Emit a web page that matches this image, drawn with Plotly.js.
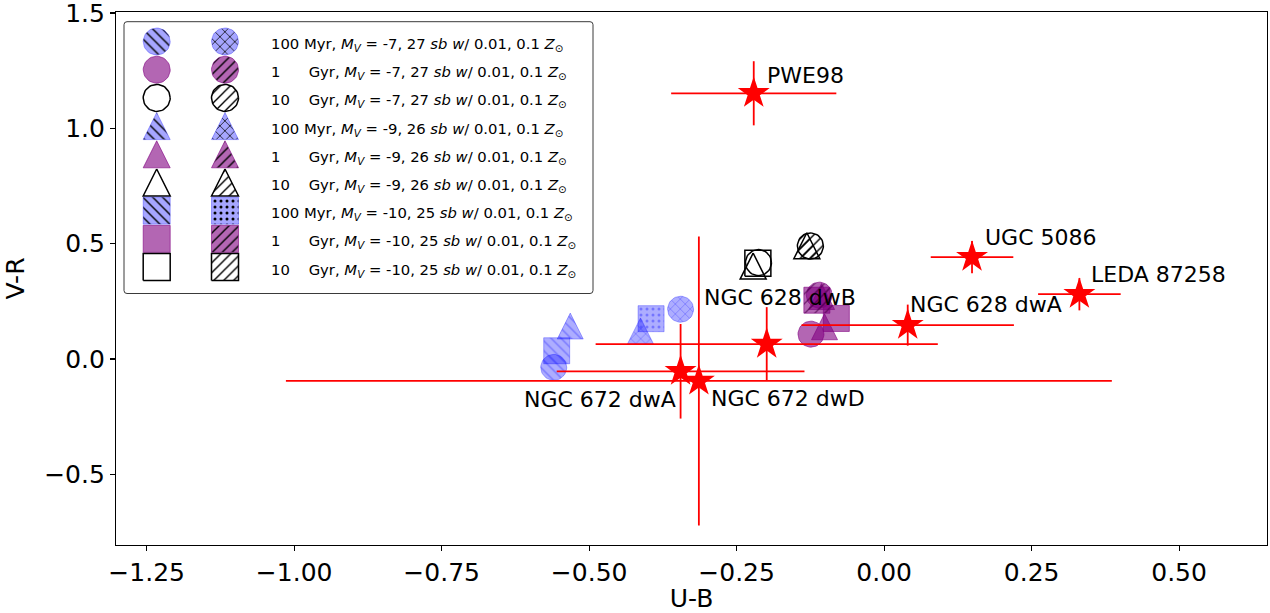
<!DOCTYPE html>
<html>
<head>
<meta charset="utf-8">
<script src="https://cdn.plot.ly/plotly-3.0.1.min.js"></script>
<style>
  html, body { margin: 0; padding: 0; background: #fff; }
  #chart { width: 1270px; height: 613px; }
</style>
</head>
<body>
<div id="chart"></div>
<script>
// ---- model star clusters -------------------------------------------------
// rows: age, columns: M_V = -7 (circle), -9 (triangle), -10 (square)
const ageNumbers = ['100', '1', '10'];
const ageUnits = ['Myr', 'Gyr', 'Gyr'];
const magnitudes = [-7, -9, -10];
const surfaceBrightness = [27, 26, 25];

// U-B and V-R of the models at 0.01 Z_sun
const modelUB_z001 = [
  [-0.560, -0.532, -0.555],
  [-0.124, -0.101, -0.081],
  [-0.213, -0.222, -0.214]
];
const modelVR_z001 = [
  [-0.036, 0.143, 0.036],
  [0.108, 0.140, 0.176],
  [0.418, 0.403, 0.415]
];
// U-B and V-R of the models at 0.1 Z_sun
const modelUB_z01 = [
  [-0.345, -0.413, -0.395],
  [-0.110, -0.106, -0.114],
  [-0.125, -0.131, null]
];
const modelVR_z01 = [
  [0.216, 0.122, 0.175],
  [0.277, 0.271, 0.255],
  [0.490, 0.491, null]
];

// ---- observed dwarfs -----------------------------------------------------
const galaxyNames = ['PWE98', 'UGC 5086', 'LEDA 87258', 'NGC 628 dwA', 'NGC 628 dwB', 'NGC 672 dwA', 'NGC 672 dwD'];
const galaxyUB = [-0.221, 0.149, 0.331, 0.040, -0.199, -0.345, -0.314];
const galaxyVR = [1.152, 0.442, 0.281, 0.147, 0.065, -0.053, -0.095];
const galaxyUBerr = [0.140, 0.070, 0.070, 0.180, 0.290, 0.210, 0.700];
const galaxyVRerr = [0.139, 0.070, 0.070, 0.089, 0.160, 0.205, 0.626];

// axis ticks
const xTicks = [-1.25, -1.00, -0.75, -0.50, -0.25, 0.00, 0.25, 0.50];
const yTicks = [-0.5, 0.0, 0.5, 1.0, 1.5];

// ---- geometry ------------------------------------------------------------
const W = 1270, H = 613;
const margin = { l: 116, r: 3, t: 12, b: 68 };
const plotW = W - margin.l - margin.r;
const plotH = H - margin.t - margin.b;
const xRange = [-1.302, 0.649];
const yRange = [-0.806, 1.5043];
const unitX = (xRange[1] - xRange[0]) / plotW;   // data units per pixel
const unitY = (yRange[1] - yRange[0]) / plotH;

const shapeKinds = ['circle', 'triangle', 'square'];

// outline of a marker of pixel size `size` centred on (cx, cy)
function outline(kind, cx, cy, ux, uy, size) {
  const pts = [];
  const h = size / 2;
  if (kind === 'circle') {
    for (let i = 0; i <= 48; i++) {
      const t = (i / 48) * 2 * Math.PI;
      pts.push([h * Math.cos(t), h * Math.sin(t)]);
    }
  } else if (kind === 'triangle') {
    pts.push([0, h], [-h, -h], [h, -h], [0, h]);
  } else {
    pts.push([-h, -h], [h, -h], [h, h], [-h, h], [-h, -h]);
  }
  return {
    x: pts.map(p => cx + p[0] * ux),
    y: pts.map(p => cy + p[1] * uy)
  };
}

// hatch used by each age / metallicity / magnitude
function hatchOf(age, z, mag) {
  if (age === 0) return z === 0 ? '\\' : (mag === 2 ? '.' : 'x');
  return z === 0 ? '' : '/';
}

const plotStyle = [
  { fill: 'rgba(0,0,255,0.32)', edge: 'rgba(0,0,255,0.30)', hatch: 'rgb(70,70,255)', hatchOpacity: 0.55, edgeWidth: 1 },
  { fill: 'rgba(128,0,128,0.6)', edge: 'rgba(128,0,128,0.6)', hatch: 'rgb(70,0,70)', hatchOpacity: 0.6, edgeWidth: 1 },
  { fill: 'rgba(255,255,255,0)', edge: 'black', hatch: 'black', hatchOpacity: 1, edgeWidth: 1.5 }
];
const legendStyle = [
  { fill: 'rgba(0,0,255,0.35)', edge: 'rgba(0,0,255,0.3)', hatch: 'black', hatchOpacity: 1, edgeWidth: 1 },
  { fill: 'rgba(128,0,128,0.6)', edge: 'rgba(128,0,128,0.6)', hatch: 'black', hatchOpacity: 1, edgeWidth: 1 },
  { fill: 'rgba(255,255,255,1)', edge: 'black', hatch: 'black', hatchOpacity: 1, edgeWidth: 1.5 }
];

function markerTrace(poly, style, hatch, axes) {
  const tr = {
    type: 'scatter', mode: 'lines',
    x: poly.x, y: poly.y,
    fill: 'toself', fillcolor: style.fill,
    line: { color: style.edge, width: style.edgeWidth },
    hoverinfo: 'skip', showlegend: false,
    xaxis: axes[0], yaxis: axes[1]
  };
  if (hatch) {
    tr.fillpattern = {
      shape: hatch, bgcolor: style.fill, fgcolor: style.hatch,
      fgopacity: style.hatchOpacity,
      size: hatch === '.' ? 6 : 7,
      solidity: 0.2
    };
  }
  return tr;
}

const traces = [];

// model points
[[modelUB_z001, modelVR_z001], [modelUB_z01, modelVR_z01]].forEach(([ub, vr], z) => {
  for (let a = 0; a < 3; a++) {
    for (let m = 0; m < 3; m++) {
      if (ub[a][m] === null) continue;
      const poly = outline(shapeKinds[m], ub[a][m], vr[a][m], unitX, unitY, 26);
      traces.push(markerTrace(poly, plotStyle[a], hatchOf(a, z, m), ['x', 'y']));
    }
  }
});

// observed dwarfs with errors
traces.push({
  type: 'scatter', mode: 'markers',
  x: galaxyUB, y: galaxyVR, text: galaxyNames,
  marker: { symbol: 'star', size: 24, color: 'red', line: { width: 0 } },
  error_x: { type: 'data', array: galaxyUBerr, visible: true, color: 'red', thickness: 1.8, width: 0 },
  error_y: { type: 'data', array: galaxyVRerr, visible: true, color: 'red', thickness: 1.8, width: 0 },
  hoverinfo: 'text', showlegend: false
});

// label placement (pixel offsets from each star)
const labelOffsets = [
  { xanchor: 'left', dx: 11, dy: 18 },
  { xanchor: 'left', dx: 11, dy: 20 },
  { xanchor: 'left', dx: 10, dy: 20 },
  { xanchor: 'left', dx: 0, dy: 21 },
  { xanchor: 'left', dx: -65, dy: 47 },
  { xanchor: 'right', dx: -3, dy: -28 },
  { xanchor: 'left', dx: 10, dy: -18 }
];
const annotations = galaxyNames.map((name, i) => ({
  x: galaxyUB[i], y: galaxyVR[i], xref: 'x', yref: 'y',
  text: name, showarrow: false,
  xanchor: labelOffsets[i].xanchor, yanchor: 'middle',
  xshift: labelOffsets[i].dx, yshift: labelOffsets[i].dy,
  font: { family: 'DejaVu Sans', size: 22, color: 'black' }
}));

// ---- legend (drawn on a pixel-unit overlay axis) -------------------------
const legBox = { x0: 8, y0: 9.7, x1: 477, y1: 281.5, r: 3 };
const legRow0 = 29.5, legRowStep = 28.2;
const legCol = [40.7, 109];
const legTextX = 152.5;

function roundedRect(b) {
  const { x0, y0, x1, y1, r } = b;
  return `M${x0 + r},${y0} L${x1 - r},${y0} Q${x1},${y0} ${x1},${y0 + r} ` +
         `L${x1},${y1 - r} Q${x1},${y1} ${x1 - r},${y1} L${x0 + r},${y1} ` +
         `Q${x0},${y1} ${x0},${y1 - r} L${x0},${y0 + r} Q${x0},${y0} ${x0 + r},${y0} Z`;
}

const pads = ['', '\u00a0\u00a0\u00a0\u00a0\u00a0', '\u00a0\u00a0\u00a0'];
let row = 0;
for (let m = 0; m < 3; m++) {
  for (let a = 0; a < 3; a++) {
    const cy = legRow0 + row * legRowStep;
    for (let z = 0; z < 2; z++) {
      const poly = outline(shapeKinds[m], legCol[z], cy, 1, -1, 27);
      traces.push(markerTrace(poly, legendStyle[a], hatchOf(a, z, m), ['x2', 'y2']));
    }
    annotations.push({
      x: legTextX, y: cy + 3, xref: 'x2', yref: 'y2',
      xanchor: 'left', yanchor: 'middle', showarrow: false,
      text: `${ageNumbers[a]}${pads[a]} ${ageUnits[a]}, <i>M</i><sub><i>V</i></sub> = ${magnitudes[m]}, ` +
            `${surfaceBrightness[m]} <i>sb w</i>/ 0.01, 0.1 <i>Z</i><sub>⊙</sub>`,
      font: { family: 'DejaVu Sans', size: 14.8, color: 'black' }
    });
    row++;
  }
}

const axisCommon = {
  showline: true, linecolor: 'black', linewidth: 1.1, mirror: true,
  ticks: 'outside', ticklen: 5, tickwidth: 1.1, tickcolor: 'black',
  showgrid: false, zeroline: false, ticklabeloverflow: 'allow',
  tickfont: { family: 'DejaVu Sans', size: 25, color: 'black' }
};

const layout = {
  width: W, height: H,
  margin: margin,
  paper_bgcolor: 'white', plot_bgcolor: 'white',
  font: { family: 'DejaVu Sans', color: 'black' },
  showlegend: false,
  xaxis: Object.assign({}, axisCommon, {
    range: xRange, tickvals: xTicks, tickformat: '.2f',
    title: { text: 'U-B', font: { family: 'DejaVu Sans', size: 25, color: 'black' }, standoff: 4 }
  }),
  yaxis: Object.assign({}, axisCommon, {
    range: yRange, tickvals: yTicks, tickformat: '.1f',
    title: { text: 'V-R', font: { family: 'DejaVu Sans', size: 25, color: 'black' }, standoff: 12 }
  }),
  xaxis2: { overlaying: 'x', anchor: 'y2', range: [0, plotW], visible: false, fixedrange: true },
  yaxis2: { overlaying: 'y', anchor: 'x2', range: [plotH, 0], visible: false, fixedrange: true },
  shapes: [{
    type: 'path', xref: 'x2', yref: 'y2', path: roundedRect(legBox),
    fillcolor: 'white', line: { color: '#3a3a3a', width: 1 }, layer: 'below'
  }],
  annotations: annotations
};

Plotly.newPlot('chart', traces, layout, { displayModeBar: false, staticPlot: true });
</script>
</body>
</html>
